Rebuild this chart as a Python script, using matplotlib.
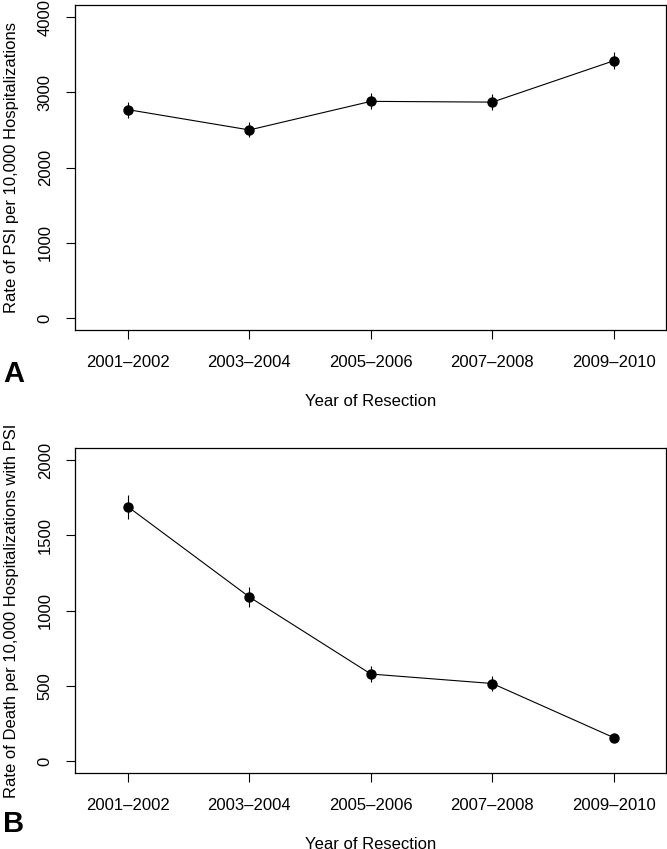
import numpy as np
import matplotlib.pyplot as plt

plt.rcParams['font.family'] = ['Liberation Sans', 'DejaVu Sans']

# data
periods = ['2001–2002', '2003–2004', '2005–2006', '2007–2008', '2009–2010']
psi_rate = [2770, 2500, 2880, 2870, 3420]
psi_err = [105, 100, 105, 105, 115]
death_rate = [1690, 1090, 578, 515, 155]
death_err = [80, 68, 52, 50, 15]

fig = plt.figure(figsize=(6.67, 8.49), dpi=100)

panels = [
    (psi_rate, psi_err, 'Rate of PSI per 10,000 Hospitalizations',
     [0, 1000, 2000, 3000, 4000], (-160, 4160), 0.6113, 'A', 0.560),
    (death_rate, death_err, 'Rate of Death per 10,000 Hospitalizations with PSI',
     [0, 500, 1000, 1500, 2000], (-80, 2080), 0.0895, 'B', 0.030),
]

x = np.arange(1, len(periods) + 1)
for vals, errs, ylab, yt, ylim, bottom, letter, lety in panels:
    ax = fig.add_axes([0.1124, bottom, 0.8862, 0.3827])
    ax.errorbar(x, vals, yerr=errs, fmt='none', ecolor='black', elinewidth=0.8)
    ax.plot(x, vals, color='black', lw=0.8, marker='o', ms=6.5)
    ax.set_xlim(0.564, 5.43)
    ax.set_ylim(*ylim)
    ax.set_xticks(x)
    ax.set_xticklabels(periods)
    ax.set_yticks(yt)
    ax.set_yticklabels([str(v) for v in yt], rotation=90, va='center')
    ax.tick_params(axis='x', length=6.5, width=0.8, pad=11.5, labelsize=12)
    ax.tick_params(axis='y', length=6.5, width=0.8, pad=9.5, labelsize=12)
    for s in ax.spines.values():
        s.set_linewidth(0.9)
    ax.set_ylabel(ylab, fontsize=12)
    ax.yaxis.set_label_coords(-0.094, 0.5)
    ax.set_xlabel('Year of Resection', fontsize=12, labelpad=17)
    fig.text(0.005, lety, letter, fontsize=21, fontweight='bold', va='center', ha='left')

fig.savefig('out.png', dpi=100)
